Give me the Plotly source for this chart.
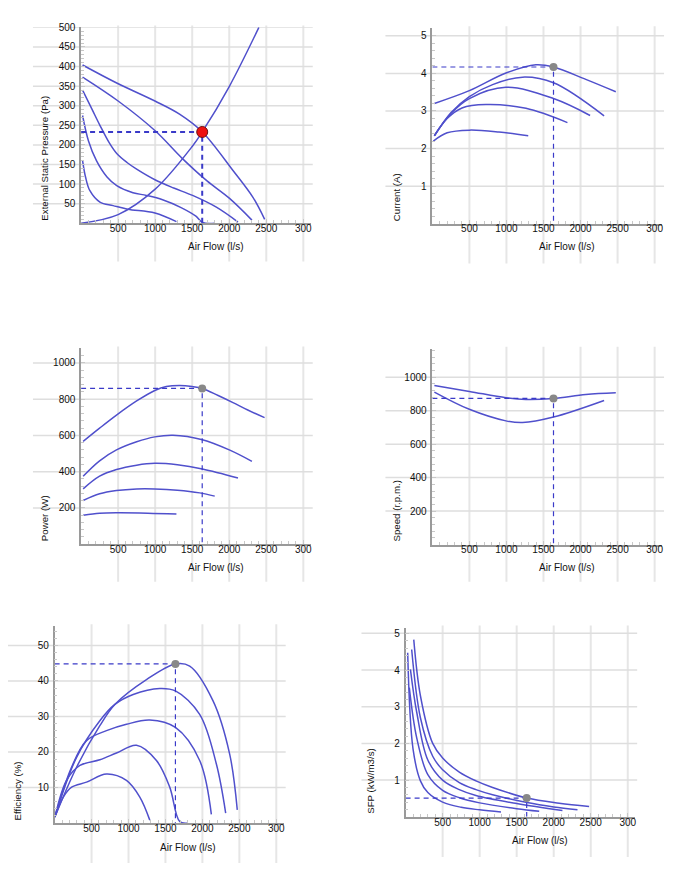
import plotly.graph_objects as go

# ---------------- data ----------------
X_TICKS = [500, 1000, 1500, 2000, 2500, 3000]
X_TICKTEXT = ["500", "1000", "1500", "2000", "2500", "300"]

# operating point
OP_FLOW = 1635
OP_PRESSURE = 233
OP_CURRENT = 4.17
OP_POWER = 859
OP_SPEED = 873
OP_EFF = 44.8
OP_SFP = 0.51

# Pressure (Pa) vs air flow
PRES_FLOW_1 = [20, 481, 997, 1334, 1637, 2053, 2320, 2478]
PRES_1 = [404, 358, 312, 278, 233, 134, 66, 10]
PRES_FLOW_2 = [20, 500, 1000, 1368, 1700, 2000, 2306]
PRES_2 = [373, 312, 236, 165, 108, 64, 8]
PRES_FLOW_3 = [20, 150, 254, 381, 481, 620, 750, 997, 1250, 1505, 1826, 2118]
PRES_3 = [340, 290, 250, 205, 178, 155, 138, 111, 90, 71, 41, 3]
PRES_FLOW_4 = [20, 100, 209, 350, 481, 700, 882, 1100, 1350, 1550, 1640, 1804]
PRES_4 = [275, 210, 159, 118, 96, 78, 71, 60, 40, 18, 2, 0]
PRES_FLOW_5 = [20, 60, 119, 254, 433, 630, 997, 1287]
PRES_5 = [160, 118, 83, 54, 45, 36, 26, 4]
SYS_FLOW = [0, 500, 1000, 1500, 1635, 2000, 2400]
SYS_PRES = [0, 22, 87, 196, 233, 349, 500]

# Current (A)
CUR_FLOW_1 = [27, 499, 993, 1397, 1635, 2071, 2476]
CUR_1 = [3.20, 3.54, 4.01, 4.23, 4.17, 3.84, 3.51]
CUR_FLOW_2 = [27, 250, 499, 813, 1217, 1635, 2318]
CUR_2 = [2.34, 2.95, 3.38, 3.70, 3.90, 3.75, 2.87]
CUR_FLOW_3 = [27, 250, 499, 993, 1635, 2129]
CUR_3 = [2.34, 2.93, 3.33, 3.63, 3.33, 2.88]
CUR_FLOW_4 = [27, 200, 400, 723, 1263, 1823]
CUR_4 = [2.34, 2.80, 3.08, 3.17, 3.07, 2.69]
CUR_FLOW_5 = [13, 200, 499, 900, 1294]
CUR_5 = [2.20, 2.42, 2.49, 2.44, 2.34]

# Power (W)
POW_FLOW_1 = [28, 250, 478, 750, 995, 1150, 1332, 1500, 1637, 1850, 2050, 2250, 2477]
POW_1 = [567, 640, 712, 790, 848, 870, 876, 870, 859, 820, 781, 740, 698]
POW_FLOW_2 = [28, 250, 478, 750, 995, 1241, 1637, 2000, 2306]
POW_2 = [375, 460, 520, 565, 592, 601, 576, 520, 457]
POW_FLOW_3 = [28, 250, 478, 750, 995, 1300, 1637, 2118]
POW_3 = [305, 375, 412, 436, 446, 438, 415, 365]
POW_FLOW_4 = [28, 250, 478, 750, 995, 1300, 1601, 1804]
POW_4 = [241, 278, 296, 305, 305, 298, 283, 265]
POW_FLOW_5 = [28, 250, 478, 900, 1287]
POW_5 = [159, 170, 173, 171, 166]

# Speed (r.p.m.)
SPD_FLOW_1 = [27, 500, 993, 1263, 1635, 2071, 2476]
SPD_1 = [950, 915, 877, 867, 873, 897, 907]
SPD_FLOW_2 = [27, 499, 993, 1217, 1635, 2318]
SPD_2 = [911, 808, 739, 729, 762, 861]

# Efficiency (%)
EFF_FLOW_1 = [4, 297, 612, 815, 1243, 1635, 1828, 2144, 2369, 2472]
EFF_1 = [1.7, 15.7, 27.4, 33.4, 40.4, 44.8, 44.2, 34.4, 19.4, 3.7]
EFF_FLOW_2 = [4, 297, 612, 815, 1063, 1423, 1635, 1963, 2189, 2315]
EFF_2 = [1.7, 18.5, 28.8, 33.4, 36.2, 37.9, 37.2, 30.6, 16.6, 2.8]
EFF_FLOW_3 = [4, 229, 432, 702, 972, 1288, 1635, 1963, 2121]
EFF_3 = [1.7, 15.7, 23.2, 26.0, 27.8, 29.0, 26.9, 17.6, 2.4]
EFF_FLOW_4 = [4, 162, 342, 612, 837, 1108, 1378, 1558, 1693, 1806]
EFF_4 = [1.7, 12.0, 16.2, 17.8, 19.7, 21.9, 17.6, 10.1, 0.4, 0]
EFF_FLOW_5 = [4, 117, 230, 432, 702, 972, 1153, 1288]
EFF_5 = [1.7, 7.3, 10.1, 11.5, 13.8, 12.0, 7.3, 0.8]

# SFP (kW/m3/s)
SFP_FLOW_1 = [110, 200, 366, 500, 725, 950, 1175, 1640, 2074, 2478]
SFP_1 = [4.83, 3.30, 2.00, 1.60, 1.22, 0.98, 0.80, 0.51, 0.37, 0.28]
SFP_FLOW_2 = [82, 200, 366, 500, 725, 950, 1175, 1640, 2000, 2321]
SFP_2 = [4.56, 2.70, 1.65, 1.28, 0.93, 0.74, 0.60, 0.39, 0.27, 0.19]
SFP_FLOW_3 = [65, 150, 300, 500, 725, 950, 1500, 2118]
SFP_3 = [4.02, 2.85, 1.55, 1.00, 0.74, 0.58, 0.36, 0.17]
SFP_FLOW_4 = [50, 150, 300, 500, 725, 1000, 1500, 1804]
SFP_4 = [3.52, 2.15, 1.15, 0.72, 0.52, 0.38, 0.22, 0.15]
SFP_FLOW_5 = [28, 100, 200, 300, 500, 750, 1000, 1288]
SFP_5 = [4.47, 1.85, 0.98, 0.66, 0.40, 0.26, 0.19, 0.13]

# ---------------- layout config ----------------
W, H = 687, 870
BLUE = "#5050cc"
FONT = "Liberation Sans, Arial, sans-serif"
TEXT = "#111111"
TICK_SIZE = 10
XTITLE_SIZE = 10
YTITLE_SIZE = 9.7

panels = [
    dict(x0=81.2, x1=311.2, yb=219.5, yt=22.5, ymax=500, yticks=[50, 100, 150, 200, 250, 300, 350, 400, 450, 500],
         ydt=10, gl=33, gb=258, ytitle="External Static Pressure (Pa)", ytx=45, xtt=(216, 243),
         curves=[(PRES_FLOW_1, PRES_1), (PRES_FLOW_2, PRES_2), (PRES_FLOW_3, PRES_3),
                 (PRES_FLOW_4, PRES_4), (PRES_FLOW_5, PRES_5), (SYS_FLOW, SYS_PRES)],
         op=OP_PRESSURE),
    dict(x0=433, x1=663, yb=220, yt=23.4, ymax=5.2, yticks=[1, 2, 3, 4, 5],
         ydt=0.2, gl=386, gb=260, ytitle="Current (A)", ytx=397, xtt=(568, 243),
         curves=[(CUR_FLOW_1, CUR_1), (CUR_FLOW_2, CUR_2), (CUR_FLOW_3, CUR_3),
                 (CUR_FLOW_4, CUR_4), (CUR_FLOW_5, CUR_5)],
         op=OP_CURRENT),
    dict(x0=81.2, x1=311.2, yb=542.3, yt=345.4, ymax=1080, yticks=[200, 400, 600, 800, 1000],
         ydt=40, gl=33, gb=580, ytitle="Power (W)", ytx=44, xtt=(216, 566),
         curves=[(POW_FLOW_1, POW_1), (POW_FLOW_2, POW_2), (POW_FLOW_3, POW_3),
                 (POW_FLOW_4, POW_4), (POW_FLOW_5, POW_5)],
         op=OP_POWER),
    dict(x0=433, x1=663, yb=542.7, yt=345.7, ymax=1170, yticks=[200, 400, 600, 800, 1000],
         ydt=40, gl=386, gb=580, ytitle="Speed (r.p.m.)", ytx=397, xtt=(568, 566),
         curves=[(SPD_FLOW_1, SPD_1), (SPD_FLOW_2, SPD_2)],
         op=OP_SPEED),
    dict(x0=54.7, x1=284.1, yb=822.7, yt=624.9, ymax=55.4, yticks=[10, 20, 30, 40, 50],
         ydt=2, gl=8, gb=863, ytitle="Efficiency (%)", ytx=18, xtt=(188, 847),
         curves=[(EFF_FLOW_1, EFF_1), (EFF_FLOW_2, EFF_2), (EFF_FLOW_3, EFF_3),
                 (EFF_FLOW_4, EFF_4), (EFF_FLOW_5, EFF_5)],
         op=OP_EFF),
    dict(x0=406.2, x1=636.1, yb=816.5, yt=626.1, ymax=5.16, yticks=[1, 2, 3, 4, 5],
         ydt=0.2, gl=362, gb=857, ytitle="SFP (kW/m3/s)", ytx=371, xtt=(541, 840),
         curves=[(SFP_FLOW_1, SFP_1), (SFP_FLOW_2, SFP_2), (SFP_FLOW_3, SFP_3),
                 (SFP_FLOW_4, SFP_4), (SFP_FLOW_5, SFP_5)],
         op=OP_SFP),
]

fig = go.Figure()
layout = dict(width=W, height=H, margin=dict(l=0, r=0, t=0, b=0, pad=0),
              paper_bgcolor="white", plot_bgcolor="rgba(0,0,0,0)", showlegend=False,
              font=dict(family=FONT, size=TICK_SIZE, color=TEXT))
shapes = []
annotations = []

for i, p in enumerate(panels, start=1):
    xa = "x" if i == 1 else f"x{i}"
    ya = "y" if i == 1 else f"y{i}"
    xkey = "xaxis" if i == 1 else f"xaxis{i}"
    ykey = "yaxis" if i == 1 else f"yaxis{i}"
    layout[xkey] = dict(domain=[p["x0"] / W, p["x1"] / W], range=[0, 3100], anchor=ya,
                        showline=True, linecolor="#9a9a9a", linewidth=1.5, showgrid=False,
                        zeroline=False, tickmode="array", tickvals=X_TICKS, ticktext=X_TICKTEXT,
                        ticks="inside", ticklen=4, tickcolor="#c8c8c8", ticklabelstandoff=-5,
                        tickfont=dict(size=TICK_SIZE, color=TEXT, family=FONT),
                        minor=dict(ticks="inside", ticklen=3, tickcolor="#c8c8c8",
                                   tickmode="linear", tick0=0, dtick=100, showgrid=False),
                        fixedrange=True)
    layout[ykey] = dict(domain=[1 - p["yb"] / H, 1 - p["yt"] / H], range=[0, p["ymax"]], anchor=xa,
                        showline=True, linecolor="#9a9a9a", linewidth=1.5, showgrid=False,
                        zeroline=False, tickmode="array", tickvals=p["yticks"],
                        ticks="inside", ticklen=4, tickcolor="#c8c8c8", ticklabelstandoff=2,
                        tickfont=dict(size=TICK_SIZE, color=TEXT, family=FONT),
                        minor=dict(ticks="inside", ticklen=3, tickcolor="#c8c8c8",
                                   tickmode="linear", tick0=0, dtick=p["ydt"], showgrid=False),
                        fixedrange=True)
    # extended grid lines
    for xv in X_TICKS:
        shapes.append(dict(type="line", xref=xa, yref="paper", x0=xv, x1=xv,
                           y0=1 - p["gb"] / H, y1=1 - (p["yt"] - 2) / H,
                           line=dict(color="#e6e6e6", width=2), layer="below"))
    for yv in p["yticks"]:
        shapes.append(dict(type="line", xref="paper", yref=ya, x0=p["gl"] / W, x1=(p["x1"] + 2) / W,
                           y0=yv, y1=yv, line=dict(color="#dedede", width=1.5), layer="below"))
    # curves
    for fx, fy in p["curves"]:
        fig.add_trace(go.Scatter(x=fx, y=fy, xaxis=xa, yaxis=ya, mode="lines",
                                 line=dict(color=BLUE, width=1.5, shape="spline", smoothing=1.0),
                                 hoverinfo="skip"))
    # dashed guide lines
    fig.add_trace(go.Scatter(x=[0, OP_FLOW, OP_FLOW], y=[p["op"], p["op"], 0], xaxis=xa, yaxis=ya,
                             mode="lines",
                             line=dict(color="#3a3ac8", width=2 if i == 1 else 1.2, dash="5px,4px"),
                             hoverinfo="skip"))
    # operating point
    if i == 1:
        mk = dict(size=11, color="#ee1111", line=dict(color="#701010", width=1))
    else:
        mk = dict(size=8, color="#888888", line=dict(color="#888888", width=0))
    fig.add_trace(go.Scatter(x=[OP_FLOW], y=[p["op"]], xaxis=xa, yaxis=ya, mode="markers",
                             marker=mk, hoverinfo="skip", cliponaxis=False))
    # titles
    annotations.append(dict(text="Air Flow (l/s)", xref="paper", yref="paper",
                            x=p["xtt"][0] / W, y=1 - p["xtt"][1] / H, showarrow=False,
                            xanchor="center", yanchor="middle",
                            font=dict(size=XTITLE_SIZE, color=TEXT)))
    annotations.append(dict(text=p["ytitle"], xref="paper", yref="paper", textangle=-90,
                            x=p["ytx"] / W, y=1 - (p["yb"] - 1) / H, showarrow=False,
                            xanchor="center", yanchor="bottom",
                            font=dict(size=YTITLE_SIZE, color=TEXT)))

layout["shapes"] = shapes
layout["annotations"] = annotations
fig.update_layout(**layout)
fig.write_html("out.html")
